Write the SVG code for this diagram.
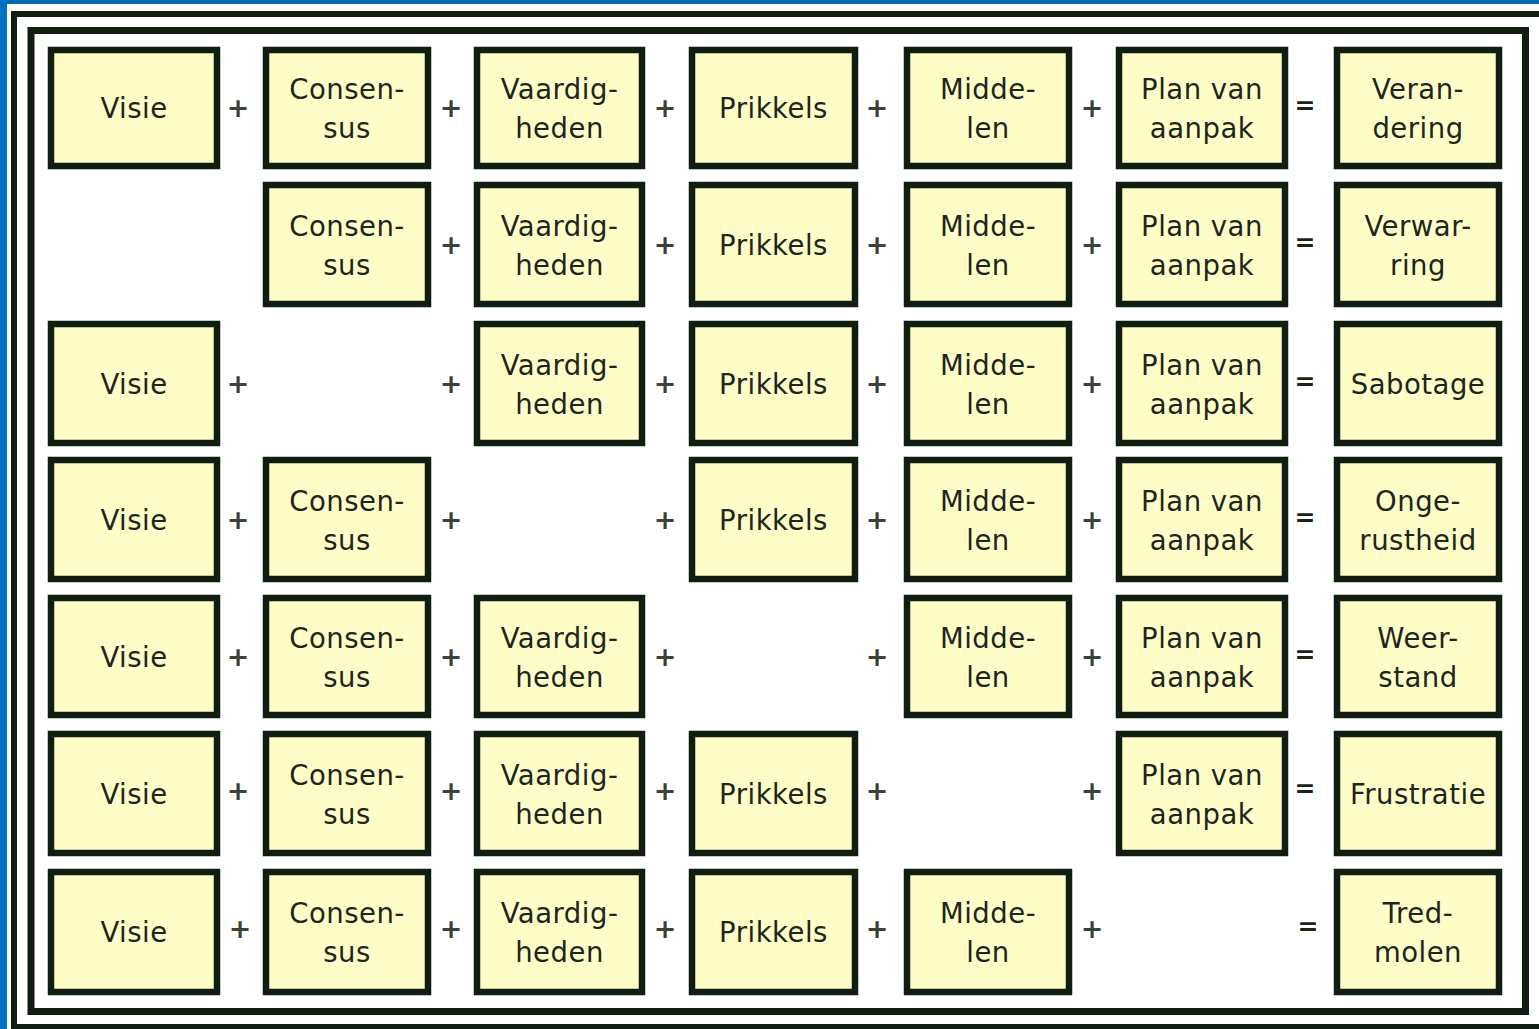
<svg xmlns="http://www.w3.org/2000/svg" width="1539" height="1029" viewBox="0 0 1539 1029">
  <style>
    .frame { fill: none; stroke: #111d11; }
    .box rect { fill: #fefdc8; stroke: #111d11; stroke-width: 6.5; }
    .box text { font-family: "DejaVu Sans", "Liberation Sans", sans-serif; font-size: 27.5px; letter-spacing: 0.5px; fill: #1c261c; text-anchor: middle; }
    .op { font-family: "DejaVu Sans", "Liberation Sans", sans-serif; font-size: 27px; font-weight: bold; fill: #3a423a; text-anchor: middle; }
    .eq { font-family: "DejaVu Sans", "Liberation Sans", sans-serif; font-size: 25px; font-weight: bold; fill: #1a241a; text-anchor: middle; }
  </style>

  <!-- page background and borders -->
  <rect x="0" y="0" width="1539" height="1029" fill="#ffffff"/>
  <rect x="0" y="0" width="1539" height="4" fill="#0068b4"/>
  <rect x="0" y="0" width="7" height="1029" fill="#0070c4"/>
  <rect class="frame" x="14" y="14" width="1600" height="1013" stroke-width="6"/>
  <rect x="31" y="30.5" width="1494.5" height="981" fill="#fefee0" class="frame" stroke-width="7"/>

  <!-- row 1: Verandering -->
  <g id="r1c1" class="box"><rect x="51" y="50" width="166" height="116"/><text x="134" y="118">Visie</text></g>
  <g id="r1c2" class="box"><rect x="266" y="50" width="162" height="116"/><text x="347" y="99">Consen-</text><text x="347" y="138">sus</text></g>
  <g id="r1c3" class="box"><rect x="477" y="50" width="165" height="116"/><text x="559.5" y="99">Vaardig-</text><text x="559.5" y="138">heden</text></g>
  <g id="r1c4" class="box"><rect x="692" y="50" width="163" height="116"/><text x="773.5" y="118">Prikkels</text></g>
  <g id="r1c5" class="box"><rect x="907" y="50" width="162" height="116"/><text x="988" y="99">Midde-</text><text x="988" y="138">len</text></g>
  <g id="r1c6" class="box"><rect x="1119" y="50" width="166" height="116"/><text x="1202" y="99">Plan van</text><text x="1202" y="138">aanpak</text></g>
  <g id="r1c7" class="box"><rect x="1337" y="50" width="162" height="116"/><text x="1418" y="99">Veran-</text><text x="1418" y="138">dering</text></g>

  <!-- row 2: Verwarring -->
  <g id="r2c2" class="box"><rect x="266" y="185" width="162" height="119"/><text x="347" y="235.5">Consen-</text><text x="347" y="274.5">sus</text></g>
  <g id="r2c3" class="box"><rect x="477" y="185" width="165" height="119"/><text x="559.5" y="235.5">Vaardig-</text><text x="559.5" y="274.5">heden</text></g>
  <g id="r2c4" class="box"><rect x="692" y="185" width="163" height="119"/><text x="773.5" y="254.5">Prikkels</text></g>
  <g id="r2c5" class="box"><rect x="907" y="185" width="162" height="119"/><text x="988" y="235.5">Midde-</text><text x="988" y="274.5">len</text></g>
  <g id="r2c6" class="box"><rect x="1119" y="185" width="166" height="119"/><text x="1202" y="235.5">Plan van</text><text x="1202" y="274.5">aanpak</text></g>
  <g id="r2c7" class="box"><rect x="1337" y="185" width="162" height="119"/><text x="1418" y="235.5">Verwar-</text><text x="1418" y="274.5">ring</text></g>

  <!-- row 3: Sabotage -->
  <g id="r3c1" class="box"><rect x="51" y="324" width="166" height="119"/><text x="134" y="393.5">Visie</text></g>
  <g id="r3c3" class="box"><rect x="477" y="324" width="165" height="119"/><text x="559.5" y="374.5">Vaardig-</text><text x="559.5" y="413.5">heden</text></g>
  <g id="r3c4" class="box"><rect x="692" y="324" width="163" height="119"/><text x="773.5" y="393.5">Prikkels</text></g>
  <g id="r3c5" class="box"><rect x="907" y="324" width="162" height="119"/><text x="988" y="374.5">Midde-</text><text x="988" y="413.5">len</text></g>
  <g id="r3c6" class="box"><rect x="1119" y="324" width="166" height="119"/><text x="1202" y="374.5">Plan van</text><text x="1202" y="413.5">aanpak</text></g>
  <g id="r3c7" class="box"><rect x="1337" y="324" width="162" height="119"/><text x="1418" y="393.5">Sabotage</text></g>

  <!-- row 4: Ongerustheid -->
  <g id="r4c1" class="box"><rect x="51" y="460" width="166" height="119"/><text x="134" y="529.5">Visie</text></g>
  <g id="r4c2" class="box"><rect x="266" y="460" width="162" height="119"/><text x="347" y="510.5">Consen-</text><text x="347" y="549.5">sus</text></g>
  <g id="r4c4" class="box"><rect x="692" y="460" width="163" height="119"/><text x="773.5" y="529.5">Prikkels</text></g>
  <g id="r4c5" class="box"><rect x="907" y="460" width="162" height="119"/><text x="988" y="510.5">Midde-</text><text x="988" y="549.5">len</text></g>
  <g id="r4c6" class="box"><rect x="1119" y="460" width="166" height="119"/><text x="1202" y="510.5">Plan van</text><text x="1202" y="549.5">aanpak</text></g>
  <g id="r4c7" class="box"><rect x="1337" y="460" width="162" height="119"/><text x="1418" y="510.5">Onge-</text><text x="1418" y="549.5">rustheid</text></g>

  <!-- row 5: Weerstand -->
  <g id="r5c1" class="box"><rect x="51" y="598" width="166" height="117"/><text x="134" y="666.5">Visie</text></g>
  <g id="r5c2" class="box"><rect x="266" y="598" width="162" height="117"/><text x="347" y="647.5">Consen-</text><text x="347" y="686.5">sus</text></g>
  <g id="r5c3" class="box"><rect x="477" y="598" width="165" height="117"/><text x="559.5" y="647.5">Vaardig-</text><text x="559.5" y="686.5">heden</text></g>
  <g id="r5c5" class="box"><rect x="907" y="598" width="162" height="117"/><text x="988" y="647.5">Midde-</text><text x="988" y="686.5">len</text></g>
  <g id="r5c6" class="box"><rect x="1119" y="598" width="166" height="117"/><text x="1202" y="647.5">Plan van</text><text x="1202" y="686.5">aanpak</text></g>
  <g id="r5c7" class="box"><rect x="1337" y="598" width="162" height="117"/><text x="1418" y="647.5">Weer-</text><text x="1418" y="686.5">stand</text></g>

  <!-- row 6: Frustratie -->
  <g id="r6c1" class="box"><rect x="51" y="734" width="166" height="119"/><text x="134" y="803.5">Visie</text></g>
  <g id="r6c2" class="box"><rect x="266" y="734" width="162" height="119"/><text x="347" y="784.5">Consen-</text><text x="347" y="823.5">sus</text></g>
  <g id="r6c3" class="box"><rect x="477" y="734" width="165" height="119"/><text x="559.5" y="784.5">Vaardig-</text><text x="559.5" y="823.5">heden</text></g>
  <g id="r6c4" class="box"><rect x="692" y="734" width="163" height="119"/><text x="773.5" y="803.5">Prikkels</text></g>
  <g id="r6c6" class="box"><rect x="1119" y="734" width="166" height="119"/><text x="1202" y="784.5">Plan van</text><text x="1202" y="823.5">aanpak</text></g>
  <g id="r6c7" class="box"><rect x="1337" y="734" width="162" height="119"/><text x="1418" y="803.5">Frustratie</text></g>

  <!-- row 7: Tredmolen -->
  <g id="r7c1" class="box"><rect x="51" y="872" width="166" height="120"/><text x="134" y="942">Visie</text></g>
  <g id="r7c2" class="box"><rect x="266" y="872" width="162" height="120"/><text x="347" y="923">Consen-</text><text x="347" y="962">sus</text></g>
  <g id="r7c3" class="box"><rect x="477" y="872" width="165" height="120"/><text x="559.5" y="923">Vaardig-</text><text x="559.5" y="962">heden</text></g>
  <g id="r7c4" class="box"><rect x="692" y="872" width="163" height="120"/><text x="773.5" y="942">Prikkels</text></g>
  <g id="r7c5" class="box"><rect x="907" y="872" width="162" height="120"/><text x="988" y="923">Midde-</text><text x="988" y="962">len</text></g>
  <g id="r7c7" class="box"><rect x="1337" y="872" width="162" height="120"/><text x="1418" y="923">Tred-</text><text x="1418" y="962">molen</text></g>

  <!-- operators between the terms -->
  <g id="operators">
    <text class="op" x="238" y="117">+</text><text class="op" x="451" y="117">+</text><text class="op" x="665" y="117">+</text><text class="op" x="877" y="117">+</text><text class="op" x="1092" y="117">+</text><text class="eq" x="1305" y="114">=</text>
    <text class="op" x="451" y="254">+</text><text class="op" x="665" y="254">+</text><text class="op" x="877" y="254">+</text><text class="op" x="1092" y="254">+</text><text class="eq" x="1305" y="251">=</text>
    <text class="op" x="238" y="393">+</text><text class="op" x="451" y="393">+</text><text class="op" x="665" y="393">+</text><text class="op" x="877" y="393">+</text><text class="op" x="1092" y="393">+</text><text class="eq" x="1305" y="390">=</text>
    <text class="op" x="238" y="529">+</text><text class="op" x="451" y="529">+</text><text class="op" x="665" y="529">+</text><text class="op" x="877" y="529">+</text><text class="op" x="1092" y="529">+</text><text class="eq" x="1305" y="526">=</text>
    <text class="op" x="238" y="666">+</text><text class="op" x="451" y="666">+</text><text class="op" x="665" y="666">+</text><text class="op" x="877" y="666">+</text><text class="op" x="1092" y="666">+</text><text class="eq" x="1305" y="663">=</text>
    <text class="op" x="238" y="800">+</text><text class="op" x="451" y="800">+</text><text class="op" x="665" y="800">+</text><text class="op" x="877" y="800">+</text><text class="op" x="1092" y="800">+</text><text class="eq" x="1305" y="797">=</text>
    <text class="op" x="240" y="938">+</text><text class="op" x="451" y="938">+</text><text class="op" x="665" y="938">+</text><text class="op" x="877" y="938">+</text><text class="op" x="1092" y="938">+</text><text class="eq" x="1308" y="935">=</text>
  </g>
</svg>
